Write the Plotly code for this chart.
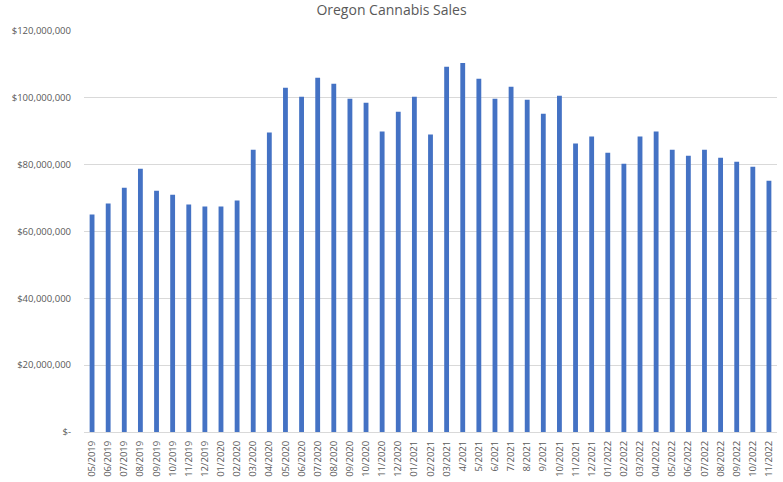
import plotly.graph_objects as go

# monthly sales
months = [
    "05/2019", "06/2019", "07/2019", "08/2019", "09/2019", "10/2019", "11/2019", "12/2019",
    "01/2020", "02/2020", "03/2020", "04/2020", "05/2020", "06/2020", "07/2020", "08/2020",
    "09/2020", "10/2020", "11/2020", "12/2020",
    "01/2021", "02/2021", "03/2021", "4/2021", "5/2021", "6/2021", "7/2021", "8/2021",
    "9/2021", "10/2021", "11/2021", "12/2021",
    "01/2022", "02/2022", "03/2022", "04/2022", "05/2022", "06/2022", "07/2022", "08/2022",
    "09/2022", "10/2022", "11/2022",
]
sales = [
    65.1, 68.4, 73.1, 78.8, 72.2, 71.0, 68.1, 67.5,
    67.5, 69.3, 84.5, 89.6, 103.0, 100.3, 106.0, 104.2,
    99.7, 98.5, 89.9, 95.8,
    100.3, 89.0, 109.3, 110.4, 105.7, 99.7, 103.3, 99.4,
    95.2, 100.6, 86.3, 88.4,
    83.6, 80.3, 88.4, 89.9, 84.5, 82.7, 84.5, 82.1,
    80.9, 79.4, 75.2,
]
sales = [v * 1e6 for v in sales]

y_ticks = [0, 20e6, 40e6, 60e6, 80e6, 100e6, 120e6]
y_labels = ["$-", "$20,000,000", "$40,000,000", "$60,000,000",
            "$80,000,000", "$100,000,000", "$120,000,000"]

fig = go.Figure(go.Bar(
    x=months, y=sales,
    marker=dict(color="#4472C4", line=dict(width=0)),
))

fig.update_layout(
    width=783, height=482,
    margin=dict(l=84, r=6, t=31, b=50),
    paper_bgcolor="white", plot_bgcolor="white",
    font=dict(family="Open Sans", color="#595959", size=9.5),
    title=dict(text="Oregon Cannabis Sales", x=0.5, xanchor="center",
               y=0.99, yanchor="top",
               font=dict(size=14, color="#595959")),
    bargap=0.7,
    showlegend=False,
)
fig.update_xaxes(
    type="category", range=[-0.5, len(months) - 0.5],
    tickangle=-90, tickfont=dict(size=9.5),
    showgrid=False, showline=True, linecolor="#d9d9d9",
    ticks="", ticklabelstandoff=4, automargin=False,
)
fig.update_yaxes(
    range=[0, 120e6], tickvals=y_ticks, ticktext=y_labels,
    showgrid=True, gridcolor="#d9d9d9", zeroline=False,
    ticks="", ticklabelstandoff=12, automargin=False,
)

# drop the page's default 8px body margin so the figure sits at the corner
fig.write_html("out.html", config={"displayModeBar": False},
               post_script="document.body.style.margin='0';")
